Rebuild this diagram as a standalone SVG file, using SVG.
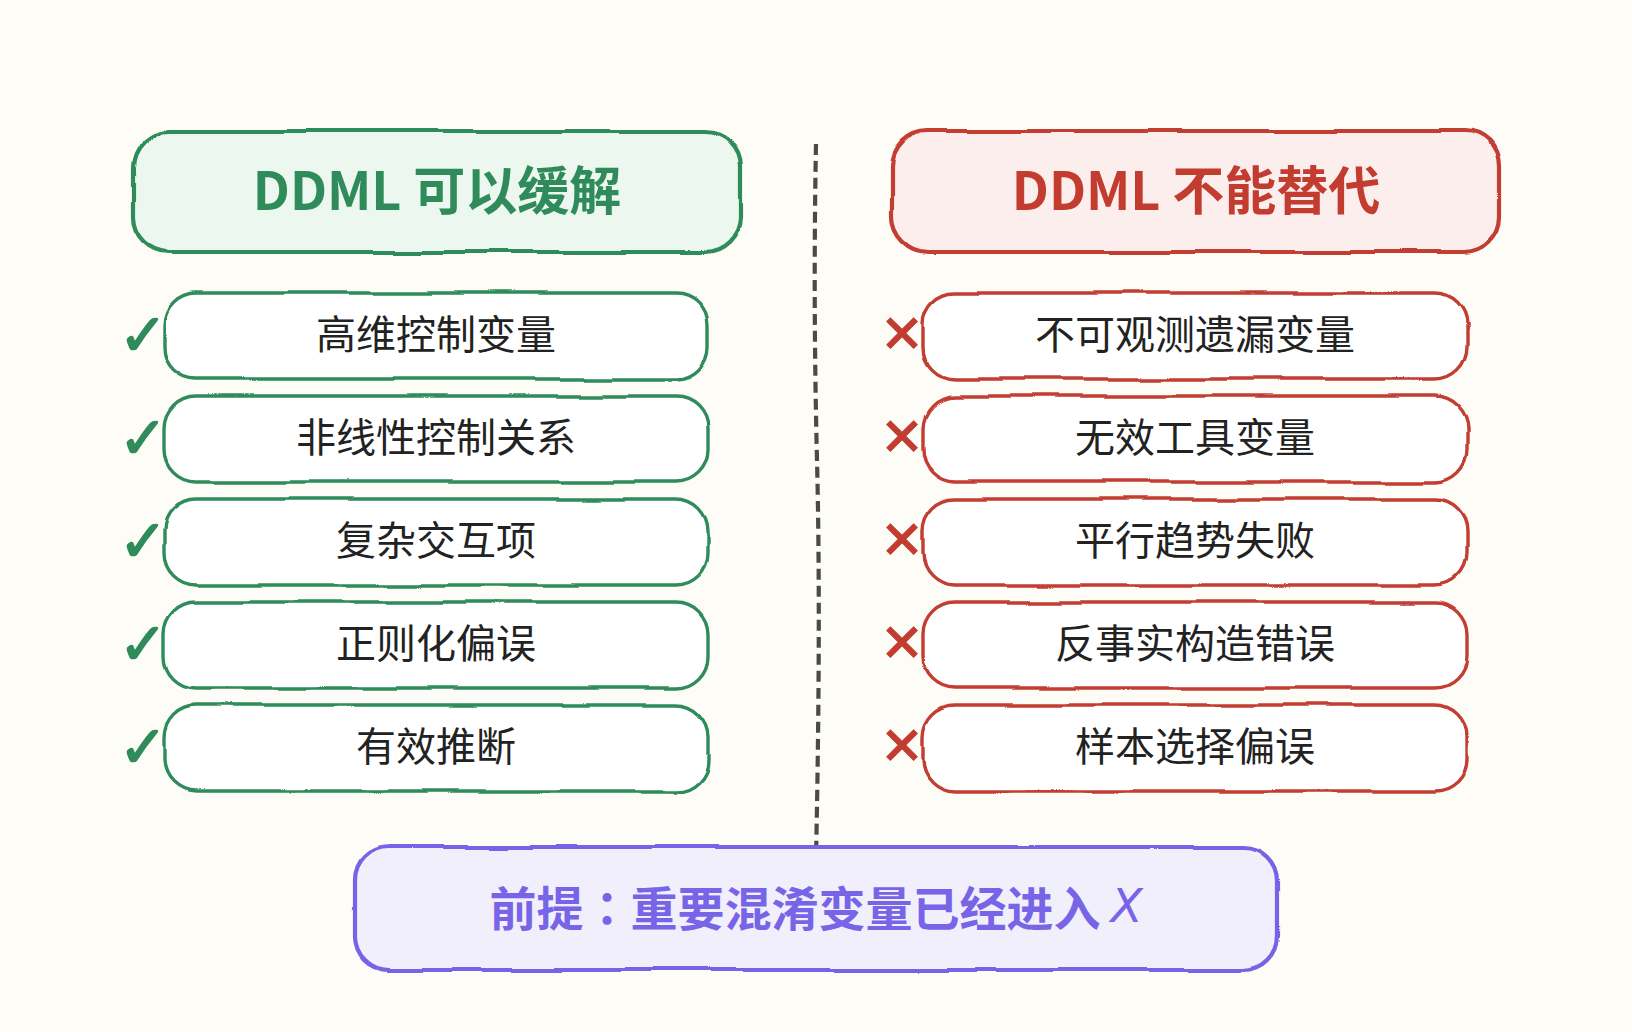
<svg xmlns="http://www.w3.org/2000/svg" width="1632" height="1032" viewBox="0 0 1632 1032">
<defs>
<filter id="rough" x="-5%" y="-25%" width="110%" height="150%">
<feTurbulence type="fractalNoise" baseFrequency="0.011 0.02" numOctaves="1" seed="7" result="n"/>
<feDisplacementMap in="SourceGraphic" in2="n" scale="7" xChannelSelector="R" yChannelSelector="G"/>
</filter>
<style>
.g{fill:#ecf7ef;stroke:#2f8b5a;stroke-width:4.2}
.r{fill:#fdeeee;stroke:#c23c30;stroke-width:4.2}
.gi{fill:#ffffff;stroke:#2f8b5a;stroke-width:3.4}
.ri{fill:#ffffff;stroke:#c23c30;stroke-width:3.4}
.p{fill:#f1effc;stroke:#7764e6;stroke-width:4.2}
.h{font-family:"Noto Sans CJK SC","Noto Sans",sans-serif;font-weight:700;font-size:52px;text-anchor:middle;dominant-baseline:central}
.pt{font-family:"Noto Sans CJK SC","Noto Sans",sans-serif;font-weight:700;font-size:47px;fill:#7764e6;text-anchor:middle;dominant-baseline:central}
.t{font-family:"Noto Sans CJK SC","Noto Sans",sans-serif;font-size:40px;fill:#222;text-anchor:middle;dominant-baseline:central}
.ck{font-family:"DejaVu Sans",sans-serif;font-size:58px;fill:#2f8b5a;stroke:#2f8b5a;stroke-width:1.6;text-anchor:middle;dominant-baseline:central}
.cx{font-family:"DejaVu Sans",sans-serif;font-size:52px;fill:#c23c30;stroke:#c23c30;stroke-width:1;text-anchor:middle;dominant-baseline:central}
</style>
</defs>
<rect width="1632" height="1032" fill="#fdfcf7"/>
<g id="connectors">
<path d="M816 144 Q813 300 817 460 T816 858" fill="none" stroke="#4a4a4a" stroke-width="4.2" stroke-dasharray="11 6"/>
</g>
<g id="header-left">
<rect class="g" x="133" y="131" width="608" height="121" rx="36" filter="url(#rough)"/>
<text class="h" x="437" y="187" fill="#2f8b5a">DDML 可以缓解</text>
</g>
<g id="header-right">
<rect class="r" x="892" y="131" width="608" height="121" rx="36" filter="url(#rough)"/>
<text class="h" x="1196" y="187" fill="#c23c30">DDML 不能替代</text>
</g>
<g id="left1"><text class="ck" x="143" y="335">✓</text><rect class="gi" x="164" y="293" width="544" height="86" rx="32" filter="url(#rough)"/><text class="t" x="436" y="332">高维控制变量</text></g>
<g id="left2"><text class="ck" x="143" y="438">✓</text><rect class="gi" x="164" y="396" width="544" height="86" rx="32" filter="url(#rough)"/><text class="t" x="436" y="435">非线性控制关系</text></g>
<g id="left3"><text class="ck" x="143" y="541">✓</text><rect class="gi" x="164" y="499" width="544" height="86" rx="32" filter="url(#rough)"/><text class="t" x="436" y="538">复杂交互项</text></g>
<g id="left4"><text class="ck" x="143" y="644">✓</text><rect class="gi" x="164" y="602" width="544" height="86" rx="32" filter="url(#rough)"/><text class="t" x="436" y="641">正则化偏误</text></g>
<g id="left5"><text class="ck" x="143" y="747">✓</text><rect class="gi" x="164" y="705" width="544" height="86" rx="32" filter="url(#rough)"/><text class="t" x="436" y="744">有效推断</text></g>
<g id="right1"><text class="cx" x="902" y="334">✕</text><rect class="ri" x="923" y="293" width="544" height="86" rx="32" filter="url(#rough)"/><text class="t" x="1195" y="332">不可观测遗漏变量</text></g>
<g id="right2"><text class="cx" x="902" y="437">✕</text><rect class="ri" x="923" y="396" width="544" height="86" rx="32" filter="url(#rough)"/><text class="t" x="1195" y="435">无效工具变量</text></g>
<g id="right3"><text class="cx" x="902" y="540">✕</text><rect class="ri" x="923" y="499" width="544" height="86" rx="32" filter="url(#rough)"/><text class="t" x="1195" y="538">平行趋势失败</text></g>
<g id="right4"><text class="cx" x="902" y="643">✕</text><rect class="ri" x="923" y="602" width="544" height="86" rx="32" filter="url(#rough)"/><text class="t" x="1195" y="641">反事实构造错误</text></g>
<g id="right5"><text class="cx" x="902" y="746">✕</text><rect class="ri" x="923" y="705" width="544" height="86" rx="32" filter="url(#rough)"/><text class="t" x="1195" y="744">样本选择偏误</text></g>
<g id="premise">
<rect class="p" x="355" y="847" width="922" height="123" rx="34" filter="url(#rough)"/>
<text class="pt" x="816" y="905">前提<tspan font-family="'Noto Sans CJK JP',sans-serif">：</tspan>重要混淆变量已经进入<tspan dx="10" font-style="italic" font-weight="400" font-family="'DejaVu Sans',sans-serif">X</tspan></text>
</g>
</svg>
